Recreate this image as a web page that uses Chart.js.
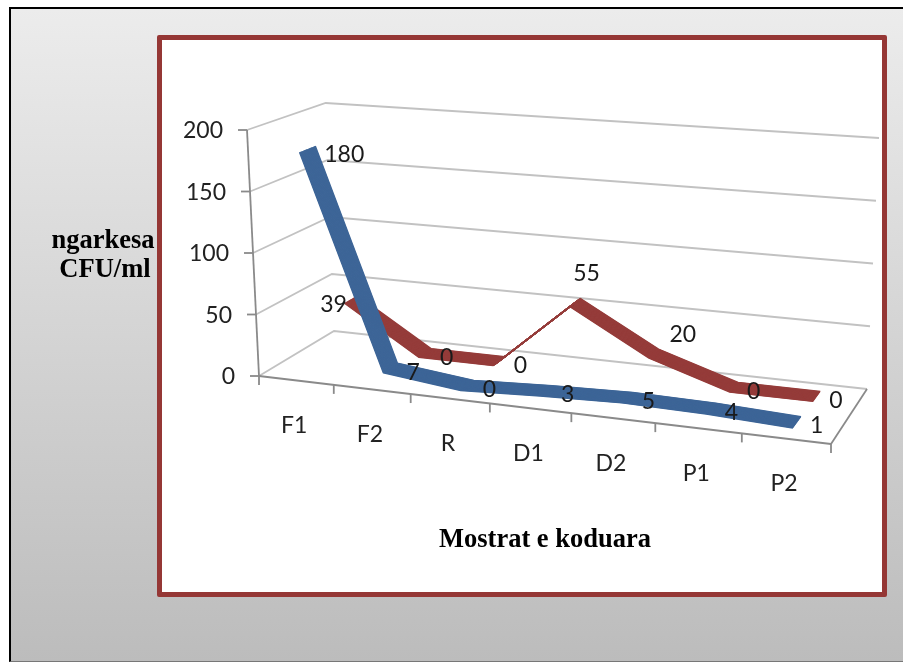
<!DOCTYPE html>
<html>
<head>
<meta charset="utf-8">
<style>
html,body{margin:0;padding:0;width:903px;height:663px;overflow:hidden;background:#fff}
#outer{position:absolute;left:9px;top:7px;width:894px;height:655px;box-sizing:border-box;border-left:2px solid #000;border-top:2px solid #000;border-bottom:1px solid #777;background:linear-gradient(#ececec,#bcbcbc)}
#frame{position:absolute;left:157px;top:35px;width:730px;height:562px;box-sizing:border-box;border:5px solid #953735;border-radius:2px;background:#fff}
canvas{position:absolute;left:0;top:0}
</style>
<script src="https://cdn.jsdelivr.net/npm/chart.js@4/dist/chart.umd.min.js"></script>
</head>
<body>
<div id="outer"></div><div id="frame"></div>
<canvas id="c" width="903" height="663"></canvas>
<script>
const categories = ['F1','F2','R','D1','D2','P1','P2'];
const blueValues = [180,7,0,3,5,4,1];
const redValues = [39,0,0,55,20,0,0];
const redLabelSides = ['left','right','right','top','upper','right','right'];
const blueLabelSides = ['right','right','right','right','right','right','right'];
const yTicks = [0,50,100,150,200];
const yTitleLines = ['ngarkesa','CFU/ml'];
const xTitle = 'Mostrat e koduara';

// 3-D box geometry (layout only)
const A={x:259,y:376},B={x:831,y:444},C={x:334,y:331},D={x:867,y:389};
const VP={x:566,y:6677};
const H=(function(){
  const dx1=B.x-D.x,dx2=C.x-D.x,sx=A.x-B.x+D.x-C.x,dy1=B.y-D.y,dy2=C.y-D.y,sy=A.y-B.y+D.y-C.y;
  const den=dx1*dy2-dx2*dy1,g=(sx*dy2-dx2*sy)/den,h=(dx1*sy-sx*dy1)/den;
  return {a:B.x-A.x+g*B.x,b:C.x-A.x+h*C.x,c:A.x,d:B.y-A.y+g*B.y,e:C.y-A.y+h*C.y,f:A.y,g,h};
})();
function project(u,v,w){
  const q=H.g*u+H.h*w+1;
  const fx=(H.a*u+H.b*w+H.c)/q, fy=(H.d*u+H.e*w+H.f)/q;
  const s=1+v*(0.03904+0.00399*u-0.00311*w);
  return {x:VP.x+s*(fx-VP.x), y:VP.y+s*(fy-VP.y)};
}
const depthSlots=[[0.16,0.36],[0.67,0.86]];
function uOf(chart,px){const a=chart.chartArea;return (px-a.left)/(a.right-a.left);}
function vOf(chart,py){const a=chart.chartArea;return (a.bottom-py)/(a.bottom-a.top);}
function seg(ctx,p,q,color,width){ctx.strokeStyle=color;ctx.lineWidth=width;ctx.beginPath();ctx.moveTo(p.x,p.y);ctx.lineTo(q.x,q.y);ctx.stroke();}

const box3d={
  id:'box3d',
  beforeDraw(chart){
    const ys=chart.scales.y,xs=chart.scales.x;
    ys.getLabelItems(chart.chartArea).forEach((it,i)=>{
      const val=ys.ticks[i].value, p=project(0,val/200,0);
      it.options.translation=[p.x-24,ys.getPixelForValue(val)+1];
    });
    xs.getLabelItems(chart.chartArea).forEach((it,i)=>{
      const p=project((xs.getPixelForTick(i)-chart.chartArea.left)/chart.chartArea.width,0,0);
      it.options.translation=[p.x-2,p.y+45];
      it.options.textBaseline='middle';it.options.textAlign='center';
      it.textOffset=0;
    });
  },
  beforeDatasetsDraw(chart){
    const ctx=chart.ctx,ys=chart.scales.y,grid='#c2c2c2',axis='#8a8a8a';
    ctx.save();ctx.lineCap='butt';
    ys.ticks.forEach(t=>{
      const v=vOf(chart,ys.getPixelForValue(t.value));
      const a=project(0,v,0),b=project(0,v,1),c=project(1,v,1);
      ctx.strokeStyle=grid;ctx.lineWidth=1.8;ctx.beginPath();ctx.moveTo(a.x,a.y);ctx.lineTo(b.x,b.y);ctx.lineTo(c.x,c.y);ctx.stroke();
    });
    seg(ctx,project(0,0,0),project(0,1,0),axis,1.8);
    seg(ctx,project(1,0,0),project(1,0,1),axis,1.8);
    seg(ctx,project(0,0,0),project(1,0,0),axis,2);
    ys.ticks.forEach(t=>{
      const p=project(0,vOf(chart,ys.getPixelForValue(t.value)),0);
      seg(ctx,{x:p.x-9,y:p.y},p,axis,1.8);
    });
    for(let i=0;i<=categories.length;i++){
      const p=project(i/categories.length,0,0);
      seg(ctx,p,{x:p.x,y:p.y+9},axis,1.8);
    }
    ctx.restore();
    // y-axis title
    ctx.save();ctx.font='bold 26.5px "Liberation Serif"';ctx.fillStyle='#000';ctx.textAlign='center';ctx.textBaseline='middle';
    ctx.fillText(yTitleLines[0],103,241);
    ctx.fillText(yTitleLines[1],105,270);
    ctx.restore();
  },
  beforeDatasetDraw(chart,args){
    const meta=args.meta,ds=chart.data.datasets[args.index],ctx=chart.ctx;
    const xs=chart.scales.x,ys=chart.scales.y,slot=depthSlots[args.index];
    const steps=28;
    for(let k=0;k<=steps;k++){
      const w=slot[0]+(slot[1]-slot[0])*k/steps;
      meta.data.forEach((pt,i)=>{
        const p=project(uOf(chart,xs.getPixelForValue(i)),vOf(chart,ys.getPixelForValue(ds.data[i])),w);
        pt.x=p.x;pt.y=p.y;
      });
      meta.dataset._path=undefined;
      meta.dataset.draw(ctx,chart.chartArea,0,meta.data.length);
    }
    return false;
  },
  afterDatasetsDraw(chart){
    const ctx=chart.ctx,xs=chart.scales.x,ys=chart.scales.y;
    ctx.save();ctx.font='23px Lato';ctx.fillStyle='#1a1a1a';ctx.textBaseline='middle';
    chart.data.datasets.forEach((ds,di)=>{
      const back=depthSlots[di][1];
      ds.data.forEach((val,i)=>{
        const p=project(uOf(chart,xs.getPixelForValue(i)),vOf(chart,ys.getPixelForValue(val)),back);
        const side=ds.labelSides[i];
        if(side==='right'){ctx.textAlign='left';ctx.fillText(String(val),p.x+9,p.y+9);}
        else if(side==='left'){ctx.textAlign='right';ctx.fillText(String(val),p.x-11,p.y+9);}
        else if(side==='upper'){ctx.textAlign='left';ctx.fillText(String(val),p.x+11,p.y-15);}
        else{ctx.textAlign='center';ctx.fillText(String(val),p.x+6,p.y-25);}
      });
    });
    ctx.restore();
  }
};

new Chart(document.getElementById('c'),{
  type:'line',
  data:{labels:categories,datasets:[
    {label:'Blue',data:blueValues,labelSides:blueLabelSides,borderColor:'#3d6597',borderWidth:1.4,pointRadius:0,tension:0,borderJoinStyle:'round',segment:{},order:0},
    {label:'Red',data:redValues,labelSides:redLabelSides,borderColor:'#953c3a',borderWidth:1.4,pointRadius:0,tension:0,borderJoinStyle:'round',segment:{},order:0}
  ]},
  plugins:[box3d],
  options:{
    responsive:false,animation:false,events:[],
    layout:{padding:{top:130,right:72,left:0,bottom:0}},
    plugins:{legend:{display:false},tooltip:{enabled:false},title:{display:false}},
    scales:{
      x:{type:'category',offset:true,grid:{display:false},border:{display:false},
        ticks:{font:{family:'Lato',size:23},color:'#222',autoSkip:false,maxRotation:0,minRotation:0},
        title:{display:true,text:xTitle,font:{family:'Liberation Serif',size:26.5,weight:'bold'},color:'#000',padding:{top:0,bottom:107}},
        afterFit(s){s.height=287;}},
      y:{type:'linear',min:0,max:200,grid:{display:false},border:{display:false},
        afterBuildTicks(s){s.ticks=yTicks.map(v=>({value:v}));},
        ticks:{font:{family:'Lato',size:23},color:'#222',padding:10},
        afterFit(s){s.width=259;}}
    }
  }
});
</script>
</body>
</html>
